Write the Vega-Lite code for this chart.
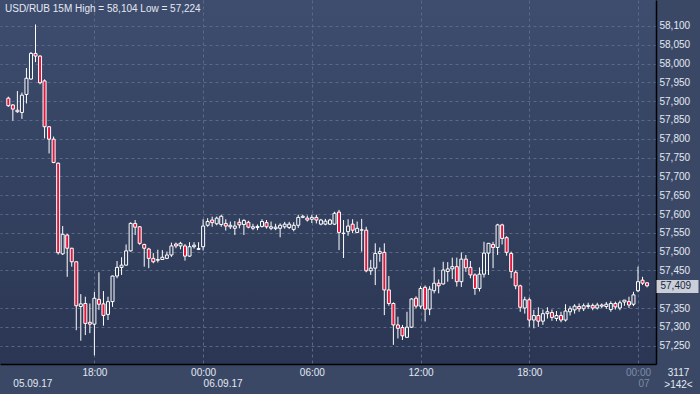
{
  "$schema": "https://vega.github.io/schema/vega-lite/v6.json",
  "width": 656,
  "height": 364,
  "autosize": {"type": "none"},
  "padding": {"left": 0, "top": 0, "right": 44, "bottom": 30},
  "background": "#3a4866",
  "config": {
    "view": {"stroke": null, "fill": {"gradient": "linear", "x1": 0, "y1": 0, "x2": 0, "y2": 1, "stops": [{"offset": 0, "color": "#3e4d6e"}, {"offset": 1, "color": "#2a3653"}]}},
    "font": "Liberation Sans"
  },
  "title": {"text": "USD/RUB 15M High = 58,104 Low = 57,224", "anchor": "start", "frame": "group", "orient": "top", "offset": -12, "dx": 5, "dy": 10, "color": "#e3e9f3", "fontSize": 10, "fontWeight": "normal", "font": "Liberation Sans", "baseline": "alphabetic"},
  "data": {"values": [
    {"t":"2017-09-05T13:15","o":57.908,"h":57.912,"l":57.885,"c":57.888},
    {"t":"2017-09-05T13:30","o":57.890,"h":57.892,"l":57.848,"c":57.879},
    {"t":"2017-09-05T13:45","o":57.876,"h":57.927,"l":57.869,"c":57.872},
    {"t":"2017-09-05T14:00","o":57.870,"h":57.923,"l":57.853,"c":57.916},
    {"t":"2017-09-05T14:15","o":57.918,"h":57.988,"l":57.894,"c":57.961},
    {"t":"2017-09-05T14:30","o":57.959,"h":58.031,"l":57.957,"c":58.027},
    {"t":"2017-09-05T14:45","o":58.027,"h":58.104,"l":58.004,"c":58.020},
    {"t":"2017-09-05T15:00","o":58.020,"h":58.022,"l":57.945,"c":57.949},
    {"t":"2017-09-05T15:15","o":57.954,"h":57.958,"l":57.801,"c":57.832},
    {"t":"2017-09-05T15:30","o":57.832,"h":57.834,"l":57.761,"c":57.799},
    {"t":"2017-09-05T15:45","o":57.799,"h":57.806,"l":57.735,"c":57.737},
    {"t":"2017-09-05T16:00","o":57.735,"h":57.737,"l":57.492,"c":57.497},
    {"t":"2017-09-05T16:15","o":57.494,"h":57.568,"l":57.491,"c":57.546},
    {"t":"2017-09-05T16:30","o":57.544,"h":57.547,"l":57.433,"c":57.509},
    {"t":"2017-09-05T16:45","o":57.509,"h":57.510,"l":57.460,"c":57.473},
    {"t":"2017-09-05T17:00","o":57.473,"h":57.474,"l":57.291,"c":57.356},
    {"t":"2017-09-05T17:15","o":57.354,"h":57.387,"l":57.263,"c":57.361},
    {"t":"2017-09-05T17:30","o":57.362,"h":57.380,"l":57.278,"c":57.309},
    {"t":"2017-09-05T17:45","o":57.312,"h":57.362,"l":57.283,"c":57.307},
    {"t":"2017-09-05T18:00","o":57.307,"h":57.393,"l":57.224,"c":57.376},
    {"t":"2017-09-05T18:15","o":57.373,"h":57.445,"l":57.345,"c":57.360},
    {"t":"2017-09-05T18:30","o":57.361,"h":57.395,"l":57.303,"c":57.330},
    {"t":"2017-09-05T18:45","o":57.333,"h":57.380,"l":57.318,"c":57.367},
    {"t":"2017-09-05T19:00","o":57.367,"h":57.436,"l":57.353,"c":57.435},
    {"t":"2017-09-05T19:15","o":57.435,"h":57.475,"l":57.429,"c":57.458},
    {"t":"2017-09-05T19:30","o":57.458,"h":57.485,"l":57.438,"c":57.464},
    {"t":"2017-09-05T19:45","o":57.464,"h":57.519,"l":57.463,"c":57.502},
    {"t":"2017-09-05T20:00","o":57.502,"h":57.578,"l":57.500,"c":57.575},
    {"t":"2017-09-05T20:15","o":57.575,"h":57.584,"l":57.544,"c":57.565},
    {"t":"2017-09-05T20:30","o":57.566,"h":57.568,"l":57.518,"c":57.522},
    {"t":"2017-09-05T20:45","o":57.519,"h":57.521,"l":57.460,"c":57.509},
    {"t":"2017-09-05T21:00","o":57.507,"h":57.510,"l":57.456,"c":57.482},
    {"t":"2017-09-05T21:15","o":57.482,"h":57.496,"l":57.469,"c":57.473},
    {"t":"2017-09-05T21:30","o":57.477,"h":57.505,"l":57.471,"c":57.479},
    {"t":"2017-09-05T21:45","o":57.479,"h":57.504,"l":57.478,"c":57.485},
    {"t":"2017-09-05T22:00","o":57.482,"h":57.500,"l":57.480,"c":57.491},
    {"t":"2017-09-05T22:15","o":57.491,"h":57.524,"l":57.486,"c":57.515},
    {"t":"2017-09-05T22:30","o":57.520,"h":57.524,"l":57.509,"c":57.515},
    {"t":"2017-09-05T22:45","o":57.515,"h":57.526,"l":57.506,"c":57.522},
    {"t":"2017-09-05T23:00","o":57.515,"h":57.520,"l":57.476,"c":57.488},
    {"t":"2017-09-05T23:15","o":57.488,"h":57.525,"l":57.486,"c":57.513},
    {"t":"2017-09-05T23:30","o":57.513,"h":57.525,"l":57.508,"c":57.517},
    {"t":"2017-09-05T23:45","o":57.508,"h":57.525,"l":57.504,"c":57.506},
    {"t":"2017-09-06T00:00","o":57.513,"h":57.586,"l":57.503,"c":57.568},
    {"t":"2017-09-06T00:15","o":57.570,"h":57.589,"l":57.566,"c":57.580},
    {"t":"2017-09-06T00:30","o":57.584,"h":57.593,"l":57.566,"c":57.577},
    {"t":"2017-09-06T00:45","o":57.574,"h":57.593,"l":57.570,"c":57.589},
    {"t":"2017-09-06T01:00","o":57.572,"h":57.598,"l":57.566,"c":57.594},
    {"t":"2017-09-06T01:15","o":57.575,"h":57.586,"l":57.556,"c":57.568},
    {"t":"2017-09-06T01:30","o":57.566,"h":57.580,"l":57.560,"c":57.570},
    {"t":"2017-09-06T01:45","o":57.562,"h":57.581,"l":57.544,"c":57.568},
    {"t":"2017-09-06T02:00","o":57.578,"h":57.588,"l":57.562,"c":57.571},
    {"t":"2017-09-06T02:15","o":57.572,"h":57.586,"l":57.544,"c":57.583},
    {"t":"2017-09-06T02:30","o":57.578,"h":57.582,"l":57.562,"c":57.565},
    {"t":"2017-09-06T02:45","o":57.562,"h":57.574,"l":57.557,"c":57.566},
    {"t":"2017-09-06T03:00","o":57.564,"h":57.572,"l":57.557,"c":57.567},
    {"t":"2017-09-06T03:15","o":57.567,"h":57.586,"l":57.564,"c":57.580},
    {"t":"2017-09-06T03:30","o":57.577,"h":57.584,"l":57.561,"c":57.566},
    {"t":"2017-09-06T03:45","o":57.562,"h":57.580,"l":57.557,"c":57.566},
    {"t":"2017-09-06T04:00","o":57.561,"h":57.574,"l":57.557,"c":57.565},
    {"t":"2017-09-06T04:15","o":57.562,"h":57.575,"l":57.538,"c":57.570},
    {"t":"2017-09-06T04:30","o":57.566,"h":57.579,"l":57.561,"c":57.573},
    {"t":"2017-09-06T04:45","o":57.564,"h":57.579,"l":57.560,"c":57.573},
    {"t":"2017-09-06T05:00","o":57.559,"h":57.578,"l":57.554,"c":57.570},
    {"t":"2017-09-06T05:15","o":57.570,"h":57.598,"l":57.563,"c":57.591},
    {"t":"2017-09-06T05:30","o":57.591,"h":57.598,"l":57.589,"c":57.594},
    {"t":"2017-09-06T05:45","o":57.589,"h":57.596,"l":57.580,"c":57.584},
    {"t":"2017-09-06T06:00","o":57.586,"h":57.598,"l":57.576,"c":57.591},
    {"t":"2017-09-06T06:15","o":57.591,"h":57.598,"l":57.575,"c":57.584},
    {"t":"2017-09-06T06:30","o":57.573,"h":57.587,"l":57.570,"c":57.584},
    {"t":"2017-09-06T06:45","o":57.573,"h":57.587,"l":57.570,"c":57.581},
    {"t":"2017-09-06T07:00","o":57.573,"h":57.587,"l":57.571,"c":57.584},
    {"t":"2017-09-06T07:15","o":57.573,"h":57.606,"l":57.571,"c":57.602},
    {"t":"2017-09-06T07:30","o":57.605,"h":57.611,"l":57.504,"c":57.551},
    {"t":"2017-09-06T07:45","o":57.549,"h":57.584,"l":57.483,"c":57.548},
    {"t":"2017-09-06T08:00","o":57.553,"h":57.586,"l":57.542,"c":57.568},
    {"t":"2017-09-06T08:15","o":57.573,"h":57.586,"l":57.549,"c":57.557},
    {"t":"2017-09-06T08:30","o":57.551,"h":57.580,"l":57.549,"c":57.562},
    {"t":"2017-09-06T08:45","o":57.558,"h":57.587,"l":57.500,"c":57.557},
    {"t":"2017-09-06T09:00","o":57.557,"h":57.566,"l":57.445,"c":57.449},
    {"t":"2017-09-06T09:15","o":57.449,"h":57.478,"l":57.438,"c":57.456},
    {"t":"2017-09-06T09:30","o":57.456,"h":57.522,"l":57.411,"c":57.495},
    {"t":"2017-09-06T09:45","o":57.495,"h":57.511,"l":57.473,"c":57.500},
    {"t":"2017-09-06T10:00","o":57.498,"h":57.522,"l":57.331,"c":57.398},
    {"t":"2017-09-06T10:15","o":57.398,"h":57.435,"l":57.356,"c":57.362},
    {"t":"2017-09-06T10:30","o":57.362,"h":57.365,"l":57.252,"c":57.305},
    {"t":"2017-09-06T10:45","o":57.305,"h":57.327,"l":57.269,"c":57.296},
    {"t":"2017-09-06T11:00","o":57.298,"h":57.305,"l":57.265,"c":57.276},
    {"t":"2017-09-06T11:15","o":57.272,"h":57.340,"l":57.272,"c":57.299},
    {"t":"2017-09-06T11:30","o":57.299,"h":57.376,"l":57.297,"c":57.374},
    {"t":"2017-09-06T11:45","o":57.376,"h":57.381,"l":57.349,"c":57.355},
    {"t":"2017-09-06T12:00","o":57.355,"h":57.408,"l":57.348,"c":57.402},
    {"t":"2017-09-06T12:15","o":57.405,"h":57.410,"l":57.314,"c":57.347},
    {"t":"2017-09-06T12:30","o":57.347,"h":57.408,"l":57.331,"c":57.400},
    {"t":"2017-09-06T12:45","o":57.396,"h":57.458,"l":57.389,"c":57.416},
    {"t":"2017-09-06T13:00","o":57.416,"h":57.426,"l":57.389,"c":57.409},
    {"t":"2017-09-06T13:15","o":57.414,"h":57.473,"l":57.412,"c":57.451},
    {"t":"2017-09-06T13:30","o":57.447,"h":57.472,"l":57.420,"c":57.454},
    {"t":"2017-09-06T13:45","o":57.454,"h":57.484,"l":57.427,"c":57.460},
    {"t":"2017-09-06T14:00","o":57.460,"h":57.484,"l":57.407,"c":57.420},
    {"t":"2017-09-06T14:15","o":57.420,"h":57.498,"l":57.406,"c":57.480},
    {"t":"2017-09-06T14:30","o":57.480,"h":57.491,"l":57.446,"c":57.457},
    {"t":"2017-09-06T14:45","o":57.458,"h":57.475,"l":57.429,"c":57.438},
    {"t":"2017-09-06T15:00","o":57.438,"h":57.442,"l":57.385,"c":57.402},
    {"t":"2017-09-06T15:15","o":57.402,"h":57.458,"l":57.394,"c":57.440},
    {"t":"2017-09-06T15:30","o":57.440,"h":57.526,"l":57.431,"c":57.496},
    {"t":"2017-09-06T15:45","o":57.496,"h":57.522,"l":57.438,"c":57.522},
    {"t":"2017-09-06T16:00","o":57.519,"h":57.526,"l":57.456,"c":57.511},
    {"t":"2017-09-06T16:15","o":57.511,"h":57.574,"l":57.491,"c":57.571},
    {"t":"2017-09-06T16:30","o":57.571,"h":57.574,"l":57.519,"c":57.535},
    {"t":"2017-09-06T16:45","o":57.537,"h":57.541,"l":57.489,"c":57.498},
    {"t":"2017-09-06T17:00","o":57.495,"h":57.500,"l":57.429,"c":57.447},
    {"t":"2017-09-06T17:15","o":57.445,"h":57.450,"l":57.400,"c":57.409},
    {"t":"2017-09-06T17:30","o":57.409,"h":57.412,"l":57.340,"c":57.352},
    {"t":"2017-09-06T17:45","o":57.350,"h":57.380,"l":57.335,"c":57.372},
    {"t":"2017-09-06T18:00","o":57.372,"h":57.378,"l":57.300,"c":57.318},
    {"t":"2017-09-06T18:15","o":57.318,"h":57.345,"l":57.296,"c":57.330},
    {"t":"2017-09-06T18:30","o":57.330,"h":57.352,"l":57.300,"c":57.315},
    {"t":"2017-09-06T18:45","o":57.315,"h":57.346,"l":57.305,"c":57.335},
    {"t":"2017-09-06T19:00","o":57.335,"h":57.352,"l":57.322,"c":57.340},
    {"t":"2017-09-06T19:15","o":57.338,"h":57.346,"l":57.316,"c":57.325},
    {"t":"2017-09-06T19:30","o":57.322,"h":57.342,"l":57.315,"c":57.330},
    {"t":"2017-09-06T19:45","o":57.330,"h":57.340,"l":57.312,"c":57.318},
    {"t":"2017-09-06T20:00","o":57.318,"h":57.360,"l":57.314,"c":57.342},
    {"t":"2017-09-06T20:15","o":57.340,"h":57.355,"l":57.330,"c":57.348},
    {"t":"2017-09-06T20:30","o":57.345,"h":57.360,"l":57.335,"c":57.355},
    {"t":"2017-09-06T20:45","o":57.354,"h":57.362,"l":57.340,"c":57.348},
    {"t":"2017-09-06T21:00","o":57.348,"h":57.362,"l":57.342,"c":57.356},
    {"t":"2017-09-06T21:15","o":57.354,"h":57.364,"l":57.348,"c":57.357},
    {"t":"2017-09-06T21:30","o":57.357,"h":57.362,"l":57.344,"c":57.350},
    {"t":"2017-09-06T21:45","o":57.350,"h":57.364,"l":57.346,"c":57.358},
    {"t":"2017-09-06T22:00","o":57.358,"h":57.362,"l":57.350,"c":57.355},
    {"t":"2017-09-06T22:15","o":57.354,"h":57.366,"l":57.348,"c":57.360},
    {"t":"2017-09-06T22:30","o":57.346,"h":57.368,"l":57.340,"c":57.362},
    {"t":"2017-09-06T22:45","o":57.362,"h":57.367,"l":57.346,"c":57.353},
    {"t":"2017-09-06T23:00","o":57.350,"h":57.370,"l":57.344,"c":57.364},
    {"t":"2017-09-06T23:15","o":57.366,"h":57.371,"l":57.356,"c":57.371},
    {"t":"2017-09-06T23:30","o":57.367,"h":57.380,"l":57.350,"c":57.358},
    {"t":"2017-09-06T23:45","o":57.360,"h":57.393,"l":57.355,"c":57.385},
    {"t":"2017-09-07T00:00","o":57.396,"h":57.460,"l":57.392,"c":57.420},
    {"t":"2017-09-07T00:15","o":57.424,"h":57.433,"l":57.411,"c":57.416},
    {"t":"2017-09-07T00:30","o":57.417,"h":57.418,"l":57.405,"c":57.409}
  ]},
  "resolve": {"axis": {"x": "independent", "y": "independent"}},
  "layer": [
    {
      "mark": {"type": "rule", "color": "#ffffff", "strokeWidth": 1},
      "encoding": {
        "x": {"field": "t", "type": "temporal",
          "scale": {"domain": [{"year": 2017, "month": 9, "date": 5, "hours": 13, "minutes": 4}, {"year": 2017, "month": 9, "date": 7, "hours": 0, "minutes": 43}]},
          "axis": {
            "orient": "bottom",
            "values": [
              {"year": 2017, "month": 9, "date": 5, "hours": 18, "minutes": 0},
              {"year": 2017, "month": 9, "date": 6, "hours": 0, "minutes": 0},
              {"year": 2017, "month": 9, "date": 6, "hours": 6, "minutes": 0},
              {"year": 2017, "month": 9, "date": 6, "hours": 12, "minutes": 0},
              {"year": 2017, "month": 9, "date": 6, "hours": 18, "minutes": 0},
              {"year": 2017, "month": 9, "date": 7, "hours": 0, "minutes": 0}
            ],
            "format": "%H:%M",
            "grid": true, "gridDash": [3, 3], "gridColor": "#5a6985", "gridWidth": 1,
            "ticks": false, "domain": true, "domainColor": "#000000", "domainWidth": 1.5,
            "labelColor": {"condition": {"test": "datum.value > time(datetime(2017, 8, 6, 20, 0))", "value": "#7e8ba5"}, "value": "#e3e9f3"},
            "labelFont": "Liberation Sans", "labelFontSize": 10, "labelPadding": 3, "labelFlush": false,
            "title": ["3117", ">142<"], "titleX": 678, "titleY": 8, "titleAlign": "center", "titleBaseline": "middle",
            "titleLineHeight": 12.5, "titleColor": "#e3e9f3", "titleFontSize": 10, "titleFontWeight": "normal", "titleFont": "Liberation Sans"
          }
        },
        "y": {"field": "l", "type": "quantitative",
          "scale": {"domain": [57.2011, 58.1691], "nice": false, "zero": false},
          "axis": {
            "orient": "right",
            "values": [57.25, 57.3, 57.35, 57.45, 57.5, 57.55, 57.6, 57.65, 57.7, 57.75, 57.8, 57.85, 57.9, 57.95, 58.0, 58.05, 58.1],
            "labelExpr": "replace(format(datum.value, '.3f'), '.', ',')",
            "grid": true, "gridDash": [3, 3], "gridColor": "#5a6985", "gridWidth": 1,
            "ticks": false, "domain": true, "domainColor": "#000000", "domainWidth": 1.5,
            "labelColor": "#e3e9f3", "labelFont": "Liberation Sans", "labelFontSize": 10, "labelPadding": 3,
            "title": null
          }
        },
        "y2": {"field": "h"}
      }
    },
    {
      "mark": {"type": "bar", "size": 3, "stroke": "#ffffff", "strokeWidth": 1},
      "encoding": {
        "x": {"field": "t", "type": "temporal",
          "axis": {
            "orient": "bottom",
            "values": [
              {"year": 2017, "month": 9, "date": 5, "hours": 13, "minutes": 30},
              {"year": 2017, "month": 9, "date": 6, "hours": 0, "minutes": 0},
              {"year": 2017, "month": 9, "date": 7, "hours": 0, "minutes": 0}
            ],
            "labelExpr": "datum.value > time(datetime(2017, 8, 6, 20, 0)) ? '07' : timeFormat(datum.value, '%d.%m.%y')",
            "labelAlign": "left", "labelDx": 4, "labelPadding": 14, "labelFlush": false,
            "labelColor": {"condition": {"test": "datum.value > time(datetime(2017, 8, 6, 20, 0))", "value": "#7e8ba5"}, "value": "#e3e9f3"},
            "labelFont": "Liberation Sans", "labelFontSize": 10,
            "grid": false, "ticks": false, "domain": false, "title": null
          }
        },
        "y": {"field": "o", "type": "quantitative",
          "axis": {
            "orient": "right",
            "values": [57.409],
            "labelExpr": "replace(format(datum.value, '.3f'), '.', ',')",
            "ticks": true, "tickSize": 42, "tickWidth": 13, "tickColor": "#c9ced8",
            "labelPadding": -38, "labelColor": "#1a2640", "labelFont": "Liberation Sans", "labelFontSize": 10,
            "domain": false, "grid": true, "gridDash": [3, 3], "gridColor": "#5a6985", "gridWidth": 1, "gridOpacity": 0, "title": null
          }
        },
        "y2": {"field": "c"},
        "fill": {"condition": {"test": "datum.c < datum.o", "value": "#e3173e"}, "value": "#313e5b"}
      }
    }
  ]
}
